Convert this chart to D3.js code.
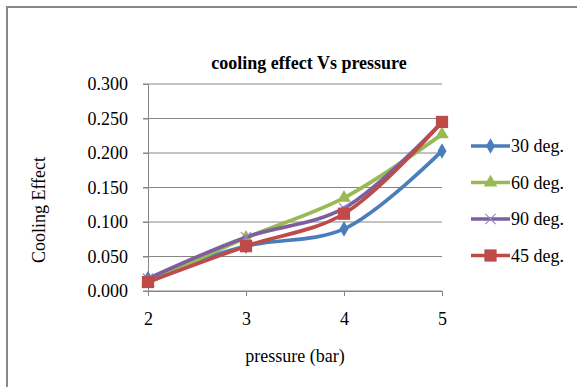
<!DOCTYPE html>
<html>
<head>
<meta charset="utf-8">
<script src="https://cdn.jsdelivr.net/npm/d3@7"></script>
<style>
  body { margin: 0; background: #fff; }
  text { font-family: "Liberation Serif", "Times New Roman", serif; fill: #000; }
</style>
</head>
<body>
<div id="chart"></div>
<script>
// data
const pressures = ["2", "3", "4", "5"];
const yTicks = [0, 0.05, 0.1, 0.15, 0.2, 0.25, 0.3];
const deg30 = [0.018, 0.065, 0.090, 0.203];
const deg60 = [0.012, 0.077, 0.135, 0.227];
const deg90 = [0.018, 0.078, 0.120, 0.245];
const deg45 = [0.013, 0.065, 0.112, 0.245];
const seriesNames = ["30 deg.", "60 deg.", "90 deg.", "45 deg."];

const series = [
	{ name: seriesNames[0], values: deg30, color: "#4a7ebb", marker: "diamond" },
	{ name: seriesNames[1], values: deg60, color: "#98b954", marker: "triangle" },
	{ name: seriesNames[2], values: deg90, color: "#7d5fa0", marker: "cross" },
	{ name: seriesNames[3], values: deg45, color: "#be4b48", marker: "square" }
];

const W = 577, H = 387;
const serif = "'Liberation Serif', 'Times New Roman', serif";
const svg = d3.select("#chart").append("svg").attr("width", W).attr("height", H);

// outer frame (only top and left show inside the picture)
svg.append("path")
	.attr("d", `M7,${H + 5} L7,7 L${W + 5},7`)
	.attr("fill", "none").attr("stroke", "#878787").attr("stroke-width", 2);

const x = d3.scalePoint().domain(pressures).range([148, 442]);
const y = d3.scaleLinear().domain([0, 0.3]).range([291, 84]);

// gridlines
svg.append("g").selectAll("line").data(yTicks).join("line")
	.attr("x1", 143).attr("x2", 442)
	.attr("y1", d => y(d)).attr("y2", d => y(d))
	.attr("stroke", "#868686").attr("stroke-width", 1);

// y axis
const yAxis = svg.append("g").attr("transform", "translate(148,0)")
	.call(d3.axisLeft(y).tickValues(yTicks).tickFormat(d3.format(".3f")).tickSize(5).tickPadding(15));
yAxis.attr("font-family", serif).attr("font-size", 18);
yAxis.select(".domain").attr("stroke", "#868686");
yAxis.selectAll(".tick line").attr("stroke", "#868686");
yAxis.selectAll("text").attr("dy", "0.32em");

// x axis
const xAxis = svg.append("g").attr("transform", "translate(0,291)")
	.call(d3.axisBottom(x).tickSize(5).tickPadding(16).tickSizeOuter(0));
xAxis.attr("font-family", serif).attr("font-size", 18);
xAxis.select(".domain").attr("stroke", "#868686");
xAxis.selectAll(".tick line").attr("stroke", "#868686");

// lines
const line = d3.line()
	.x((d, i) => x(pressures[i]))
	.y(d => y(d))
	.curve(d3.curveCatmullRom.alpha(0.5));

const symbolOf = {
	diamond: d3.symbol().type(d3.symbolDiamond).size(70),
	triangle: d3.symbol().type(d3.symbolTriangle).size(80),
	cross: d3.symbol().type(d3.symbolTimes).size(70),
	square: d3.symbol().type(d3.symbolSquare).size(150)
};

const drawMarker = (g, s, cx, cy) => {
	const m = g.append("path")
		.attr("d", symbolOf[s.marker]())
		.attr("transform", `translate(${cx},${cy})`);
	if (s.marker === "cross") {
		m.attr("fill", "none").attr("stroke", "#9a86c0").attr("stroke-width", 1.2);
	} else {
		m.attr("fill", s.color);
	}
};

series.forEach(s => {
	const g = svg.append("g");
	g.append("path").datum(s.values)
		.attr("d", line)
		.attr("fill", "none")
		.attr("stroke", s.color)
		.attr("stroke-width", 3.7);
	s.values.forEach((v, i) => drawMarker(g, s, x(pressures[i]), y(v)));
});

// legend
const legend = svg.append("g");
series.forEach((s, i) => {
	const ly = 146 + i * 36.5;
	legend.append("line")
		.attr("x1", 471).attr("x2", 510).attr("y1", ly).attr("y2", ly)
		.attr("stroke", s.color).attr("stroke-width", 3.7);
	drawMarker(legend, s, 490.5, ly);
	legend.append("text")
		.attr("x", 511).attr("y", ly).attr("dy", "0.35em")
		.style("font-size", "18px")
		.text(s.name);
});

// titles
svg.append("text")
	.attr("x", 309).attr("y", 69)
	.attr("text-anchor", "middle")
	.style("font-size", "18px").style("font-weight", "bold")
	.text("cooling effect Vs pressure");

svg.append("text")
	.attr("transform", "translate(45,210) rotate(-90)")
	.attr("text-anchor", "middle")
	.style("font-size", "18px")
	.text("Cooling Effect");

svg.append("text")
	.attr("x", 295).attr("y", 362)
	.attr("text-anchor", "middle")
	.style("font-size", "18px")
	.text("pressure (bar)");
</script>
</body>
</html>
